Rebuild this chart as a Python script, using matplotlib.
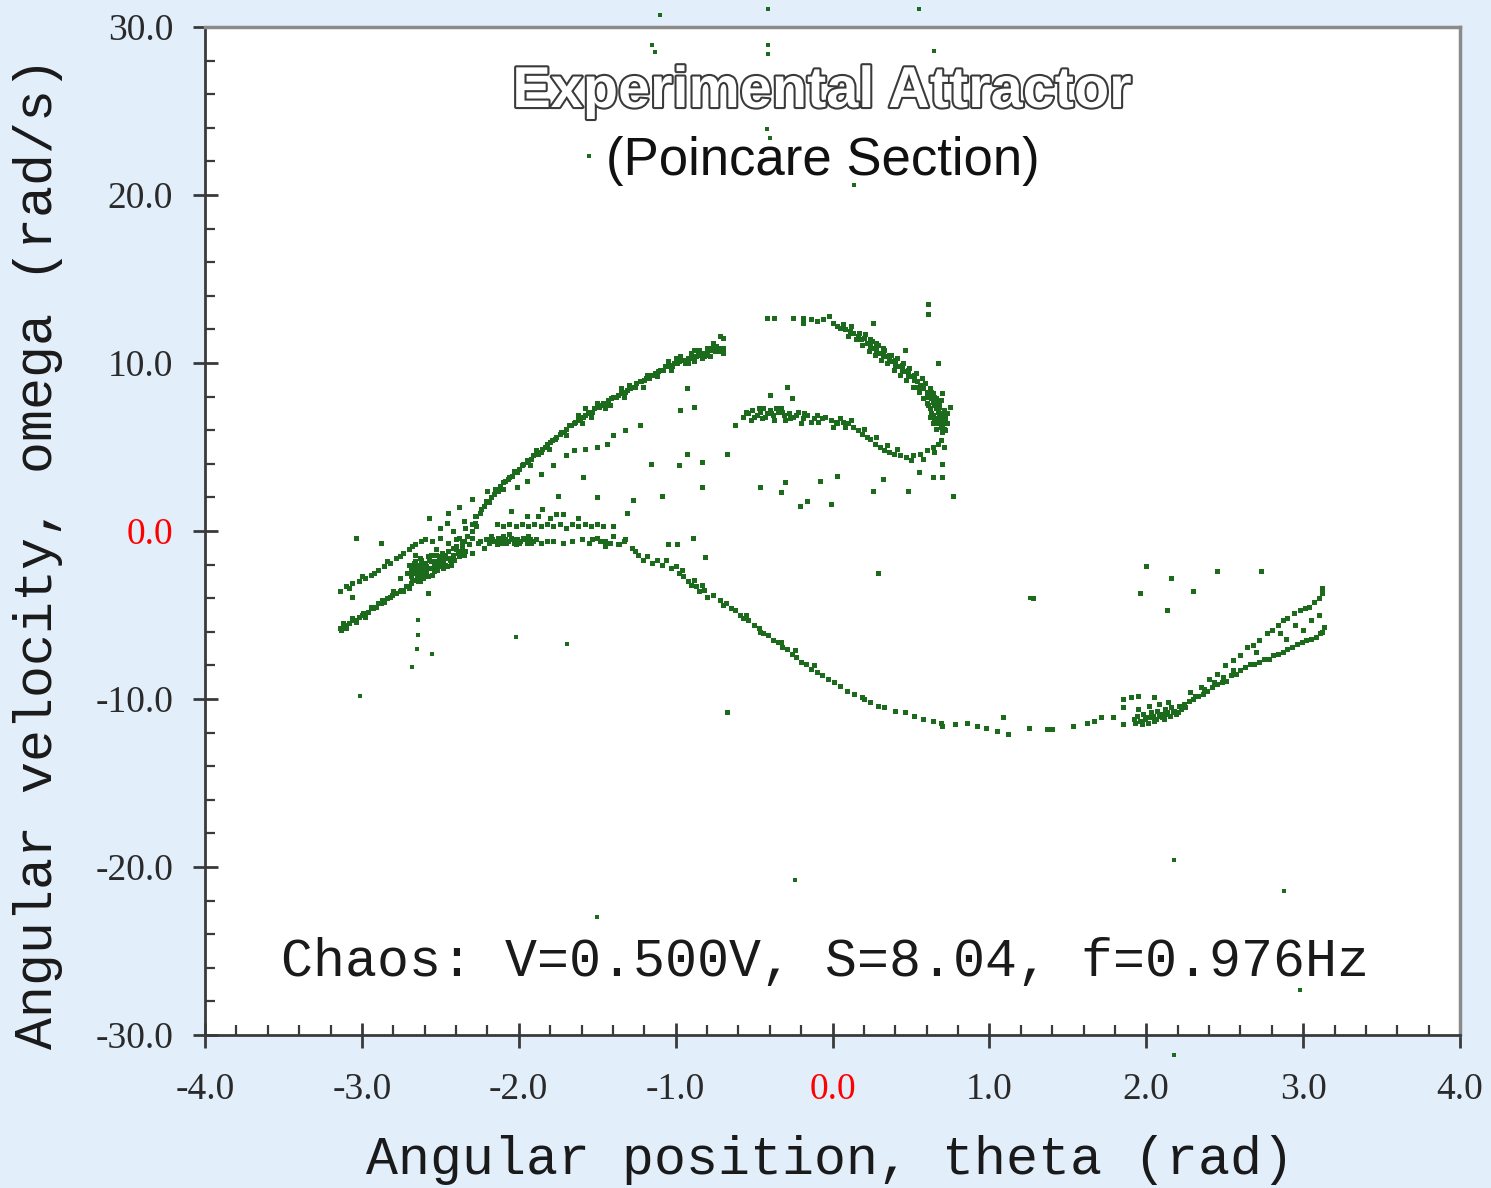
import numpy as np
import matplotlib
matplotlib.use("Agg")
import matplotlib.pyplot as plt
import matplotlib.patheffects as pe
from matplotlib.ticker import MultipleLocator

# Poincare section points (theta rad, omega rad/s)
upper_branch = [
    (-2.30, 0.4), (-2.27, 0.9), (-2.24, 1.3), (-2.21, 1.8), (-2.18, 2.0), (-2.15, 2.5), (-2.12, 2.7),
    (-2.09, 3.0), (-2.06, 3.2), (-2.03, 3.6), (-2.00, 3.7), (-1.97, 4.0), (-1.94, 4.1), (-1.91, 4.5),
    (-1.88, 4.6), (-1.85, 4.9), (-1.82, 5.2), (-1.79, 5.4), (-1.76, 5.6), (-1.73, 5.9), (-1.70, 6.1),
    (-1.67, 6.3), (-1.64, 6.5), (-1.61, 6.7), (-1.58, 6.9), (-1.55, 7.1), (-1.52, 7.3), (-1.49, 7.4),
    (-1.46, 7.6), (-1.43, 7.8), (-1.40, 8.0), (-1.37, 8.1), (-1.34, 8.3), (-1.31, 8.4), (-1.28, 8.6),
    (-1.25, 8.8), (-1.22, 8.9), (-1.19, 9.1), (-1.16, 9.3), (-1.13, 9.4), (-1.10, 9.6), (-1.07, 9.8),
    (-1.04, 9.9), (-1.01, 10.0), (-0.98, 10.1), (-0.95, 10.2), (-0.92, 10.3), (-0.89, 10.4), (-0.86, 10.5),
    (-0.83, 10.6), (-0.80, 10.7), (-0.77, 10.9), (-0.74, 11.0),
    (-2.28, 0.5), (-2.25, 1.1), (-2.22, 1.5), (-2.19, 1.7), (-2.16, 2.2), (-2.13, 2.4), (-2.10, 2.9),
    (-2.07, 3.1), (-2.04, 3.3), (-2.01, 3.5), (-1.98, 3.9), (-1.95, 4.2), (-1.92, 4.3), (-1.89, 4.8),
    (-1.86, 4.7), (-1.83, 5.0), (-1.80, 5.3), (-1.77, 5.5), (-1.74, 5.8), (-1.71, 5.9), (-1.68, 6.3),
    (-1.65, 6.4), (-1.62, 6.6), (-1.59, 6.8), (-1.56, 7.0), (-1.53, 7.1), (-1.50, 7.4), (-1.47, 7.5),
    (-1.44, 7.6), (-1.41, 7.9), (-1.38, 8.0), (-1.35, 8.2), (-1.32, 8.3), (-1.29, 8.5), (-1.26, 8.6),
    (-1.23, 8.9), (-1.20, 9.0), (-1.17, 9.1), (-1.14, 9.3), (-1.11, 9.5), (-1.08, 9.6), (-1.05, 9.8),
    (-1.02, 9.8), (-0.99, 10.0), (-0.96, 10.2), (-0.93, 10.2), (-0.90, 10.3), (-0.87, 10.4), (-0.84, 10.6),
    (-0.81, 10.5), (-0.78, 10.8), (-0.75, 10.7), (-0.73, 10.9),
    (-1.30, 8.7), (-1.18, 9.3), (-1.05, 10.1), (-0.97, 10.4), (-0.90, 10.6), (-0.85, 10.8), (-0.80, 10.9),
    (-0.76, 11.2), (-0.72, 10.7), (-0.78, 10.4), (-0.88, 10.1), (-0.94, 10.0), (-1.50, 7.6), (-1.62, 6.9),
    (-1.45, 7.3), (-1.35, 8.5), (-1.00, 10.3), (-0.83, 10.3), (-0.72, 11.6), (-0.88, 10.8),
    (-1.60, 6.4), (-1.54, 6.8), (-1.42, 7.5), (-1.33, 8.0), (-1.21, 8.6), (-1.12, 9.2), (-1.03, 9.6),
    (-0.92, 10.0), (-0.82, 10.4), (-1.70, 5.7), (-1.81, 4.9), (-1.93, 3.9),
]

sparse_upper = [
    (-2.45, 1.1), (-2.38, 1.4), (-2.30, 1.9), (-2.20, 2.4), (-2.10, 2.5), (-2.01, 2.6), (-1.95, 3.0),
    (-1.86, 3.4), (-1.78, 3.9), (-1.70, 4.5), (-1.65, 4.8), (-1.58, 4.9), (-1.50, 5.0), (-1.44, 5.2),
    (-1.40, 5.7), (-1.32, 6.0), (-1.23, 6.3), (-1.58, 7.3), (-1.59, 3.2), (-1.50, 2.0), (-1.27, 1.85),
    (-1.31, 1.1), (-1.16, 4.0), (-1.09, 2.1), (-0.98, 3.9), (-0.93, 4.6), (-0.83, 4.1), (-0.67, 4.6),
    (-0.83, 2.6), (-0.93, 8.5), (-0.97, 7.2), (-0.88, 7.4), (-0.62, 6.3), (-1.75, 2.1), (-1.72, 1.0),
    (-1.85, 1.3), (-1.95, 0.9), (-2.05, 1.2), (-1.62, 0.8), (-1.40, 0.3),
    (-2.55, -1.8), (-2.50, -1.5), (-2.45, -1.2), (-2.40, -0.9), (-2.36, -0.6), (-2.33, -0.3),
    (-2.30, 0.0), (-2.27, 0.3), (-2.42, -1.0), (-2.38, -0.4), (-2.34, 0.2), (-2.47, -1.4),
]

left_lower = [
    (-3.14, -5.8), (-3.11, -5.6), (-3.08, -5.5), (-3.05, -5.3), (-3.02, -5.1), (-2.99, -4.9), (-2.96, -4.8),
    (-2.93, -4.6), (-2.90, -4.3), (-2.87, -4.1), (-2.84, -4.0), (-2.81, -3.8), (-2.78, -3.7), (-2.75, -3.5),
    (-2.72, -3.3), (-2.69, -3.1), (-2.66, -2.9), (-2.63, -2.7), (-3.12, -5.5), (-3.06, -5.2), (-3.00, -5.0),
    (-2.94, -4.5), (-2.88, -4.3), (-2.82, -3.9), (-2.76, -3.6), (-2.70, -3.4), (-2.64, -3.0), (-3.10, -5.8),
    (-2.98, -5.1), (-2.86, -4.2), (-2.74, -3.6), (-3.13, -5.9), (-3.04, -5.4), (-2.91, -4.5), (-2.80, -3.6),
]

left_upper = [
    (-3.14, -3.6), (-3.10, -3.3), (-3.06, -3.1), (-3.02, -3.0), (-2.98, -2.8), (-2.94, -2.6), (-2.90, -2.3),
    (-2.86, -2.1), (-2.82, -1.9), (-2.78, -1.6), (-2.74, -1.3), (-2.70, -1.1), (-2.66, -0.8), (-2.62, -0.6),
    (-3.08, -3.4), (-3.00, -2.7), (-2.92, -2.5), (-2.84, -1.8), (-2.76, -1.5), (-2.68, -0.9), (-3.04, -0.4),
    (-2.88, -0.7), (-3.06, -3.9), (-2.76, -2.8), (-2.58, -3.7),
]

left_cluster = [
    (-2.70, -2.0), (-2.68, -2.4), (-2.66, -1.8), (-2.65, -2.6), (-2.64, -2.1), (-2.63, -1.6), (-2.62, -2.3),
    (-2.61, -2.8), (-2.60, -1.9), (-2.59, -2.5), (-2.58, -1.5), (-2.57, -2.2), (-2.56, -1.8), (-2.55, -2.6),
    (-2.54, -2.0), (-2.53, -1.4), (-2.52, -2.3), (-2.51, -1.7), (-2.50, -2.0), (-2.49, -1.3), (-2.48, -1.9),
    (-2.47, -1.6), (-2.46, -2.1), (-2.45, -1.2), (-2.44, -1.7), (-2.42, -1.4), (-2.40, -1.1), (-2.38, -1.5),
    (-2.36, -0.9), (-2.34, -1.2), (-2.69, -2.7), (-2.67, -2.2), (-2.66, -1.4), (-2.64, -2.5), (-2.62, -1.7),
    (-2.60, -2.2), (-2.58, -2.7), (-2.56, -1.4), (-2.54, -2.4), (-2.52, -1.9), (-2.50, -1.6), (-2.48, -2.2),
    (-2.71, -2.5), (-2.63, -3.0), (-2.53, -1.1), (-2.43, -2.0), (-2.32, -0.8), (-2.30, -1.3), (-2.26, -0.7),
    (-2.22, -1.0),
    (-2.69, -2.2), (-2.67, -1.9), (-2.65, -2.3), (-2.63, -2.0), (-2.61, -2.4), (-2.59, -2.1), (-2.57, -1.7),
    (-2.55, -2.2), (-2.53, -1.8), (-2.51, -2.1), (-2.49, -1.7), (-2.47, -2.0), (-2.45, -1.6), (-2.41, -1.7),
    (-2.39, -1.3), (-2.37, -1.2), (-2.35, -1.4), (-2.68, -2.9), (-2.66, -2.5), (-2.62, -2.6),
]

band_low = [
    (-2.60, -0.5), (-2.55, -0.6), (-2.50, -0.4), (-2.45, -0.7), (-2.40, -0.5), (-2.35, -0.6), (-2.30, -0.4),
    (-2.25, -0.6), (-2.21, -0.5), (-2.19, -0.7), (-2.17, -0.5), (-2.15, -0.6), (-2.13, -0.4), (-2.11, -0.7),
    (-2.09, -0.5), (-2.07, -0.6), (-2.05, -0.4), (-2.03, -0.7), (-2.01, -0.5), (-1.99, -0.6), (-1.97, -0.4),
    (-1.95, -0.7), (-1.93, -0.5), (-1.91, -0.6), (-1.89, -0.5), (-1.86, -0.7), (-1.82, -0.6), (-1.78, -0.6),
    (-1.72, -0.7), (-1.66, -0.6), (-1.60, -0.5), (-1.55, -0.7), (-1.50, -0.4), (-1.45, -0.6), (-1.40, -0.3),
    (-1.36, -0.8), (-1.32, -0.5), (-2.18, -0.3), (-2.10, -0.3), (-2.02, -0.8), (-1.94, -0.3), (-2.14, -0.8),
    (-2.06, -0.2), (-2.20, -0.5), (-2.16, -0.6), (-2.12, -0.5), (-2.08, -0.7), (-2.04, -0.5), (-2.00, -0.7),
    (-1.96, -0.5), (-1.92, -0.7),
]

band_high = [
    (-2.14, 0.4), (-2.10, 0.3), (-2.06, 0.4), (-2.02, 0.3), (-1.98, 0.4), (-1.94, 0.3), (-1.90, 0.4),
    (-1.86, 0.3), (-1.82, 0.4), (-1.78, 0.3), (-1.74, 0.4), (-1.70, 0.2), (-1.66, 0.4), (-1.62, 0.3),
    (-1.58, 0.4), (-1.54, 0.3), (-1.50, 0.4), (-1.46, 0.3), (-1.80, 0.8), (-1.76, 1.0), (-1.88, 0.9),
    (-2.28, 0.9), (-2.35, 0.6), (-2.46, 0.5), (-2.57, 0.8), (-2.50, 0.2), (-2.42, 0.0),
]

descending = [
    (-1.53, -0.5), (-1.48, -0.6), (-1.42, -0.7), (-1.37, -0.8), (-1.33, -0.6), (-1.28, -1.0), (-1.24, -1.4),
    (-1.21, -1.7), (-1.18, -1.5), (-1.15, -1.9), (-1.12, -1.7), (-1.09, -2.0), (-1.06, -1.7), (-1.03, -2.2),
    (-1.00, -2.1), (-0.98, -2.5), (-0.95, -2.7), (-0.92, -3.0), (-0.90, -3.2), (-0.87, -3.3), (-0.85, -3.6),
    (-0.82, -3.5), (-0.80, -3.9), (-0.76, -3.8), (-0.72, -4.1), (-0.68, -4.3), (-0.65, -4.6), (-0.62, -4.7),
    (-0.59, -5.0), (-0.57, -5.2), (-0.54, -5.3), (-0.50, -5.6), (-0.47, -5.8), (-0.44, -6.1), (-0.41, -6.2),
    (-0.38, -6.5), (-0.35, -6.6), (-0.32, -6.9), (-0.29, -7.0), (-0.26, -7.3), (-0.23, -7.5), (-0.20, -7.8),
    (-0.17, -7.9), (-0.14, -8.2), (-0.10, -8.4), (-0.07, -8.6), (-0.03, -8.8), (0.01, -9.0), (0.05, -9.2),
    (0.09, -9.5), (0.14, -9.7), (0.19, -9.9), (0.24, -10.2), (0.29, -10.4), (0.33, -10.5), (0.40, -10.7),
    (0.46, -10.8), (0.52, -11.0), (0.58, -11.2), (0.64, -11.3), (0.69, -11.4), (0.70, -11.6), (0.78, -11.5),
    (0.86, -11.4), (0.92, -11.6), (0.98, -11.7), (-1.45, -0.9), (-1.26, -1.2), (-0.96, -2.3), (-0.88, -2.9),
    (-0.70, -4.4), (-0.55, -5.0), (-0.46, -6.0), (-0.33, -6.6), (-0.24, -7.1), (-0.12, -8.0), (0.20, -10.0),
    (-0.81, -1.55), (-0.89, -0.4), (-0.99, -0.8), (-1.05, -0.8), (-0.67, -10.8), (0.29, -2.5), (-0.83, -3.2),
]

bottom_right = [
    (1.05, -11.9), (1.09, -11.1), (1.12, -12.1), (1.25, -11.7), (1.37, -11.8), (1.40, -11.8), (1.53, -11.6),
    (1.62, -11.4), (1.67, -11.3), (1.71, -11.1), (1.79, -11.1), (1.85, -11.5), (1.85, -10.5),
    (1.92, -11.2), (1.94, -11.0), (1.96, -11.3), (1.98, -10.9), (2.00, -11.1), (2.01, -11.4), (2.03, -10.8),
    (2.04, -11.0), (2.06, -11.2), (2.07, -10.7), (2.09, -10.9), (2.10, -11.1), (2.12, -10.6), (2.13, -10.8),
    (2.15, -11.0), (2.16, -10.5), (2.18, -10.7), (2.19, -10.9), (2.21, -10.4), (2.22, -10.6), (2.24, -10.3),
    (2.25, -10.5), (1.95, -10.6), (2.02, -10.4), (2.08, -10.3), (2.14, -10.2), (1.97, -11.5), (2.05, -11.3),
    (2.11, -11.2), (2.20, -10.8), (1.93, -11.4), (1.99, -11.2), (2.03, -11.1), (2.08, -11.0), (2.12, -10.9),
    (2.17, -10.8), (2.23, -10.5),
    (2.27, -10.1), (2.30, -10.0), (2.33, -9.8), (2.36, -9.7), (2.39, -9.5), (2.42, -9.3), (2.45, -9.1),
    (2.48, -9.0), (2.51, -8.9), (2.54, -8.6), (2.57, -8.5), (2.60, -8.3), (2.63, -8.1), (2.66, -7.9),
    (2.69, -7.9), (2.72, -7.8), (2.75, -7.6), (2.78, -7.6), (2.81, -7.4), (2.84, -7.3), (2.87, -7.2),
    (2.90, -7.0), (2.93, -6.9), (2.96, -6.7), (2.99, -6.6), (3.02, -6.5), (3.05, -6.4), (3.08, -6.3),
    (3.11, -6.1), (3.13, -5.7), (3.12, -6.0), (2.31, -9.8), (2.37, -9.4), (2.43, -9.0), (2.49, -8.7),
    (2.55, -8.3),
    (2.50, -8.0), (2.55, -7.7), (2.60, -7.4), (2.64, -6.9), (2.68, -6.8), (2.72, -6.5), (2.77, -6.1),
    (2.80, -5.9), (2.84, -5.6), (2.87, -5.3), (2.90, -5.2), (2.94, -4.9), (2.98, -4.7), (3.01, -4.6),
    (3.04, -4.5), (3.07, -4.2), (3.10, -4.0), (3.12, -3.7), (3.12, -3.4), (2.85, -6.1), (2.95, -5.6),
    (3.05, -5.3), (2.70, -7.2), (2.40, -8.8), (2.35, -9.3), (2.28, -9.6), (3.00, -5.9), (3.10, -5.0),
    (2.89, -6.4), (2.45, -8.5),
    (1.28, -4.0), (2.00, -2.1), (1.96, -3.7), (2.16, -2.8), (2.13, -4.7), (2.30, -3.6), (2.45, -2.4),
    (2.73, -2.4), (1.85, -10.0), (1.95, -9.8), (2.05, -9.9), (1.90, -9.9),
]

upper_arc = [
    (-0.42, 12.7), (-0.37, 12.7), (-0.19, 12.7), (-0.19, 12.4), (-0.10, 12.5), (-0.06, 12.6), (0.00, 12.4),
    (0.03, 12.2), (0.05, 12.1), (0.08, 12.0), (0.11, 11.9), (0.13, 11.8), (0.16, 11.6), (0.18, 11.4),
    (0.20, 11.5), (0.22, 11.2), (0.24, 11.0), (0.26, 10.9), (0.28, 10.8), (0.30, 10.6), (0.32, 10.5),
    (0.34, 10.4), (0.36, 10.2), (0.38, 10.1), (0.40, 9.9), (0.42, 9.8), (0.44, 9.6), (0.46, 9.5),
    (0.48, 9.3), (0.50, 9.2), (0.52, 9.0), (0.54, 8.9), (0.56, 8.7), (0.58, 8.5), (0.60, 8.3), (0.61, 8.1),
    (0.63, 7.9), (0.64, 7.7), (0.65, 7.5), (0.66, 7.3), (0.67, 7.1), (0.68, 6.9), (0.69, 6.7), (0.70, 6.5),
    (0.70, 6.3), (0.71, 6.1), (0.70, 5.9),
    (0.12, 12.2), (0.17, 11.8), (0.21, 11.7), (0.25, 11.3), (0.29, 11.1), (0.33, 10.8), (0.37, 10.5),
    (0.41, 10.3), (0.45, 10.0), (0.49, 9.7), (0.53, 9.4), (0.57, 9.1), (0.59, 8.8), (0.62, 8.5), (0.64, 8.2),
    (0.66, 7.9), (0.68, 7.6), (0.71, 7.2), (0.72, 6.8), (0.73, 6.4), (0.72, 6.0), (0.65, 6.6), (0.64, 6.9),
    (0.62, 7.3), (0.60, 7.6), (0.58, 7.9), (0.55, 8.3), (0.51, 8.6), (0.47, 9.0), (0.43, 9.3), (0.39, 9.6),
    (0.35, 10.0), (0.31, 10.2), (0.27, 10.5), (0.23, 10.7), (0.19, 11.1), (0.15, 11.4), (0.10, 11.6),
    (0.07, 12.3), (-0.02, 12.8), (-0.14, 12.6), (-0.25, 12.7),
    (0.63, 7.0), (0.66, 6.7), (0.69, 6.2), (0.68, 7.4), (0.70, 7.0), (0.67, 6.4), (0.61, 7.5), (0.64, 6.4),
    (0.69, 7.8), (0.72, 6.6), (0.66, 6.1), (0.62, 6.8), (0.67, 7.7), (0.65, 8.0), (0.63, 8.3), (0.60, 8.0),
    (0.57, 8.6), (0.54, 8.6), (0.52, 9.3), (0.48, 9.6), (0.44, 9.9), (0.40, 10.2), (0.36, 10.5),
    (0.32, 10.9), (0.28, 11.2), (0.24, 11.4), (0.71, 6.9), (0.68, 6.6), (0.71, 6.4), (0.73, 7.0),
    (0.61, 13.5), (0.61, 12.9), (0.26, 12.4), (0.67, 10.0), (0.46, 10.8), (0.75, 7.4), (0.70, 8.2),
    (-0.70, 11.5), (-0.70, 10.9), (-0.70, 10.6),
]

middle_arc = [
    (-0.57, 6.8), (-0.54, 7.0), (-0.51, 7.2), (-0.48, 6.9), (-0.46, 7.1), (-0.44, 7.3), (-0.42, 7.0),
    (-0.40, 7.2), (-0.38, 6.9), (-0.35, 7.1), (-0.33, 7.3), (-0.31, 6.9), (-0.28, 7.0), (-0.25, 6.8),
    (-0.22, 7.1), (-0.19, 6.7), (-0.16, 6.9), (-0.12, 6.7), (-0.09, 6.5), (-0.05, 6.8), (-0.01, 6.6),
    (0.03, 6.4), (0.07, 6.5), (0.10, 6.4), (0.13, 6.2), (0.16, 6.0), (0.19, 5.8), (0.22, 5.6), (0.24, 5.5),
    (0.27, 5.2), (0.30, 5.0), (0.33, 4.8), (0.36, 4.7), (0.39, 4.6), (0.43, 4.5), (0.47, 4.4), (0.51, 4.5),
    (0.56, 4.6), (0.60, 4.8), (0.64, 5.0), (0.67, 5.2), (0.69, 5.4), (-0.52, 6.6), (-0.45, 6.7),
    (-0.37, 6.6), (-0.30, 6.6), (-0.20, 6.4), (-0.10, 6.9), (0.00, 6.2), (0.05, 6.7), (0.12, 6.6),
    (0.20, 6.1), (0.28, 5.6), (0.35, 5.1), (0.41, 4.9), (0.50, 4.2), (0.58, 4.3), (0.65, 4.7), (0.71, 5.0),
    (-0.55, 7.1), (-0.50, 6.8), (-0.47, 7.3), (-0.43, 6.8), (-0.39, 7.0), (-0.36, 7.3), (-0.32, 7.1),
    (-0.27, 6.7), (-0.23, 6.9), (-0.18, 7.0), (-0.14, 6.5), (-0.07, 6.7), (0.02, 6.5), (0.08, 6.2),
    (-0.40, 8.1), (-0.29, 8.6), (-0.26, 7.9), (-0.62, 6.3), (-0.67, 4.6),
    (-0.46, 2.6), (-0.30, 2.9), (-0.33, 2.3), (-0.08, 3.0), (0.03, 3.3), (-0.01, 1.6), (0.26, 2.4),
    (0.32, 3.1), (0.48, 2.4), (0.64, 3.2), (0.70, 3.2), (0.77, 2.1), (-0.16, 1.8), (-0.21, 1.5),
    (0.70, 4.0), (0.55, 3.5),
]

strays = [
    (-1.15, 28.9), (-1.13, 28.5), (-0.41, 28.9), (-0.41, 28.4), (0.65, 28.6), (-1.55, 22.3), (-0.42, 23.9),
    (-0.40, 23.4), (0.14, 20.6), (2.18, -19.6), (-0.24, -20.8), (2.88, -21.4), (-1.50, -23.0),
    (2.98, -27.3), (-3.01, -9.8), (-2.02, -6.3), (-1.69, -6.7), (-2.64, -5.3), (-2.64, -6.2),
    (-2.65, -7.0), (-2.55, -7.3), (-2.68, -8.1), (1.26, -4.0),
    (-1.10, 30.7), (-0.41, 31.1), (0.55, 31.1), (2.18, -31.2),
]

x_ticks = [-4, -3, -2, -1, 0, 1, 2, 3, 4]
y_ticks = [-30, -20, -10, 0, 10, 20, 30]

bg = '#e3eefb'
green = '#1c6a1c'

fig = plt.figure(figsize=(14.91, 11.88), dpi=100, facecolor=bg)
ax = fig.add_axes([205 / 1491, 1 - 1035 / 1188, 1255 / 1491, 1008 / 1188])
ax.set_facecolor('white')

groups = [upper_branch, sparse_upper, left_lower, left_upper, left_cluster, band_low,
          band_high, descending, bottom_right, upper_arc, middle_arc]
for g in groups:
    pts = np.array(g)
    ax.plot(pts[:, 0], pts[:, 1], ls='none', marker='s', ms=3.6, mew=0, color=green)
pts = np.array(strays)
ax.plot(pts[:, 0], pts[:, 1], ls='none', marker='s', ms=2.8, mew=0, color=green, clip_on=False)

ax.set_xlim(-4, 4)
ax.set_ylim(-30, 30)

for s in ['left', 'bottom']:
    ax.spines[s].set_color('#3a3a3a')
    ax.spines[s].set_linewidth(2)
for s in ['top', 'right']:
    ax.spines[s].set_color('#8a8a8a')
    ax.spines[s].set_linewidth(2.5)

ax.set_xticks(x_ticks)
ax.set_xticklabels(['%.1f' % v for v in x_ticks])
ax.set_yticks(y_ticks)
ax.set_yticklabels(['%.1f' % v for v in y_ticks])
ax.xaxis.set_minor_locator(MultipleLocator(0.2))
ax.yaxis.set_minor_locator(MultipleLocator(2))
ax.tick_params(which='major', direction='inout', length=18, width=2, color='#3a3a3a',
               top=False, right=False)
ax.tick_params(which='minor', direction='in', length=7, width=1.6, color='#3a3a3a',
               top=False, right=False)
ax.tick_params(axis='x', which='major', pad=18)
ax.tick_params(axis='y', which='major', pad=14)
for lab in ax.get_xticklabels() + ax.get_yticklabels():
    lab.set_fontfamily('Liberation Serif')
    lab.set_fontsize(27)
    lab.set_color('#2a2a2a')
ax.get_xticklabels()[4].set_color('red')
ax.get_yticklabels()[3].set_color('red')

mono = 'Liberation Mono'
fig.text(830 / 1491, 1 - 1160 / 1188, 'Angular position, theta (rad)', family=mono,
         fontsize=38.3, ha='center', va='center', color='#1a1a1a')
fig.text(38 / 1491, 1 - 553 / 1188, 'Angular velocity, omega (rad/s)', family=mono,
         fontsize=38.3, ha='center', va='center', rotation=90, color='#1a1a1a')

ax.text(0.4916, 0.9355, 'Experimental Attractor', transform=ax.transAxes, ha='center', va='center',
        family='Liberation Sans', weight='bold', fontsize=41.5, color='white',
        path_effects=[pe.withStroke(linewidth=3, foreground='#3a3a3a')])
ax.text(0.4924, 0.867, '(Poincare Section)', transform=ax.transAxes, ha='center', va='center',
        family='Liberation Sans', fontsize=38, color='#111111')
ax.text(0.494, 0.0724, 'Chaos: V=0.500V, S=8.04, f=0.976Hz', transform=ax.transAxes,
        ha='center', va='center', family=mono, fontsize=38.3, color='#1a1a1a')

fig.savefig('out.png', dpi=100, facecolor=bg)
